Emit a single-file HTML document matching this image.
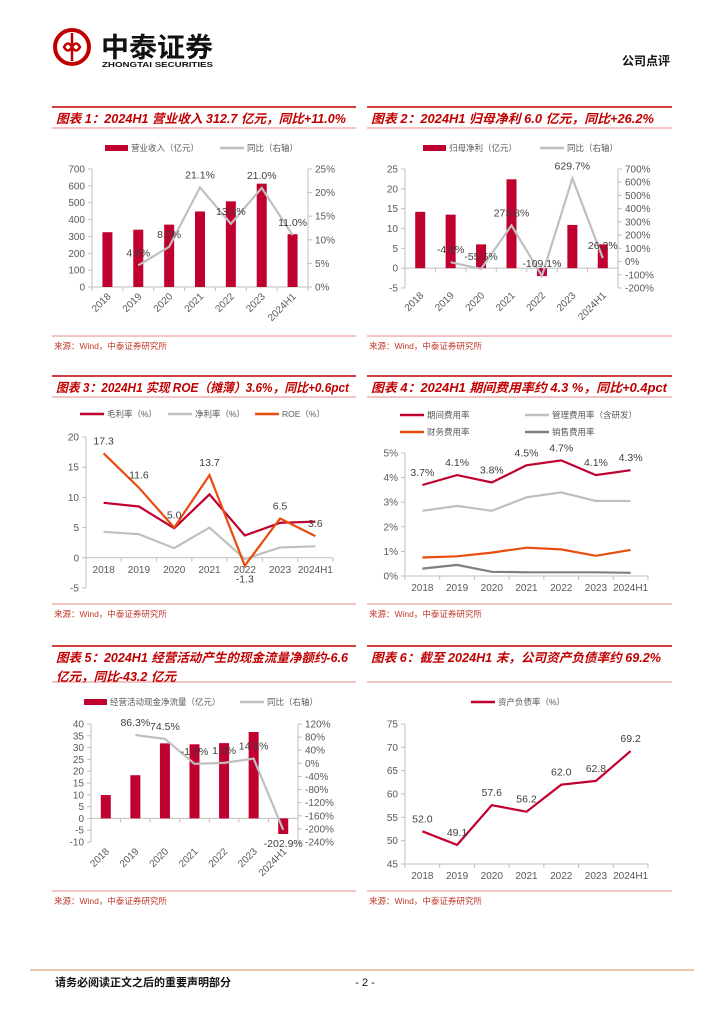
<!DOCTYPE html>
<html><head><meta charset="utf-8">
<style>
html,body{margin:0;padding:0;background:#fff;}
svg{display:block;font-family:"Liberation Sans","Noto Sans CJK SC",sans-serif;}
.tk{font-size:10px;fill:#595959;}
.lg{font-size:8.5px;fill:#595959;}
.dl{font-size:10.5px;fill:#404040;}
.tt{font-size:12.5px;font-weight:bold;font-style:italic;fill:#c00000;}
.src{font-size:8.5px;fill:#c0392b;}
</style></head>
<body>
<svg id="page" width="724" height="1024" viewBox="0 0 724 1024">
  <g>
    <circle cx="72" cy="47" r="17" fill="none" stroke="#c00000" stroke-width="4"/>
    <path d="M64 47 q4 -7 8 0 q4 7 8 0 q-4 -7 -8 0 q-4 7 -8 0z" fill="none" stroke="#c00000" stroke-width="2.5"/>
    <line x1="72" y1="33" x2="72" y2="61" stroke="#c00000" stroke-width="2.5"/>
    <text x="101" y="57" font-size="27" font-weight="bold" fill="#111" textLength="112" lengthAdjust="spacingAndGlyphs" font-family="'Noto Sans CJK SC',sans-serif">中泰证券</text>
    <text x="102" y="67" font-size="7.5" font-weight="bold" fill="#111" textLength="111" lengthAdjust="spacingAndGlyphs">ZHONGTAI SECURITIES</text>
  </g>
  <text x="670" y="65" font-size="12" font-weight="bold" fill="#111" text-anchor="end">公司点评</text>
  <line x1="30" y1="970" x2="694" y2="970" stroke="#e8c9b0" stroke-width="2"/>
  <text x="55" y="986" font-size="11" font-weight="bold" fill="#111">请务必阅读正文之后的重要声明部分</text>
  <text x="365" y="986" font-size="11" fill="#111" text-anchor="middle">- 2 -</text>
</svg>
<script>
const cats = ['2018','2019','2020','2021','2022','2023','2024H1'];
// Chart 1
const rev = [325, 340, 370, 448, 508, 613, 313];
const revYoy = [null, 4.6, 8.5, 21.1, 13.4, 21.0, 11.0];
const c1LeftTicks = [0,100,200,300,400,500,600,700];
const c1RightTicks = [0,5,10,15,20,25];
// Chart 2
const prof = [14.2, 13.5, 6.0, 22.4, -2.0, 10.9, 6.0];
const profYoy = [null, -4.8, -55.5, 273.8, -109.1, 629.7, 26.2];
const c2LeftTicks = [-5,0,5,10,15,20,25];
const c2RightTicks = [-200,-100,0,100,200,300,400,500,600,700];
// Chart 3
const gross = [9.1, 8.5, 4.9, 10.5, 3.7, 5.8, 6.0];
const net = [4.3, 3.9, 1.6, 5.0, -0.2, 1.7, 1.9];
const roe = [17.3, 11.6, 5.0, 13.7, -1.3, 6.5, 3.6];
const c3Ticks = [-5,0,5,10,15,20];
// Chart 4
const periodExp = [3.7, 4.1, 3.8, 4.5, 4.7, 4.1, 4.3];
const mgmtExp = [2.65, 2.85, 2.65, 3.2, 3.4, 3.05, 3.05];
const finExp = [0.75, 0.8, 0.95, 1.15, 1.08, 0.82, 1.06];
const salesExp = [0.3, 0.45, 0.17, 0.15, 0.15, 0.15, 0.13];
const c4Ticks = [0,1,2,3,4,5];
// Chart 5
const cash = [9.9, 18.3, 31.8, 31.4, 31.9, 36.6, -6.6];
const cashYoy = [null, 86.3, 74.5, -1.3, 1.4, 14.5, -202.9];
const c5LeftTicks = [-10,-5,0,5,10,15,20,25,30,35,40];
const c5RightTicks = [-240,-200,-160,-120,-80,-40,0,40,80,120];
// Chart 6
const debt = [52.0, 49.1, 57.6, 56.2, 62.0, 62.8, 69.2];
const c6Ticks = [45,50,55,60,65,70,75];

const NS='http://www.w3.org/2000/svg';
const svg=document.getElementById('page');
function el(tag,a,p){const e=document.createElementNS(NS,tag);for(const k in a)e.setAttribute(k,a[k]);(p||svg).appendChild(e);return e;}
function txt(s,a,p){const e=el('text',a,p);e.textContent=s;return e;}
function lin(min,max,p0,p1){return v=>p0+(v-min)/(max-min)*(p1-p0);}
function band(n,x0,x1){const s=(x1-x0)/n;return i=>x0+(i+0.5)*s;}
const AX='#bfbfbf', RED='#c0002f', GRAY='#bfbfbf', ORG='#e84c0e', DGRAY='#7f7f7f';

function panel(x0,x1,topY,titles,lens,underY,srcY){
  const g=el('g',{});
  
  
  el('line',{x1:x0,y1:topY,x2:x1,y2:topY,stroke:'#c00000','stroke-width':1.6},g);
  el('line',{x1:x0,y1:underY,x2:x1,y2:underY,stroke:'#e58a8a','stroke-width':1},g);
  titles.forEach((t,i)=>{
    const e=txt(t,{x:x0+4,y:topY+16+i*19,class:'tt',textLength:lens[i],lengthAdjust:'spacingAndGlyphs'},g);
    
    
  });
  el('line',{x1:x0,y1:srcY,x2:x1,y2:srcY,stroke:'#e58a8a','stroke-width':1},g);
  const s=txt('来源：Wind，中泰证券研究所',{x:x0+2,y:srcY+13,class:'src'},g);
  
  
  return g;
}
function yAxis(g,x,sc,ticks,fmt,side){
  el('line',{x1:x,y1:sc(ticks[0]),x2:x,y2:sc(ticks[ticks.length-1]),stroke:AX,'stroke-width':1},g);
  ticks.forEach(t=>{
    const y=sc(t);
    const d=side==='left'?-4:4;
    el('line',{x1:x,y1:y,x2:x+d,y2:y,stroke:AX},g);
    const e=txt(fmt(t),{x:side==='left'?x-7:x+7,y:y+3.5,class:'tk','text-anchor':side==='left'?'end':'start'},g);
    
    
  });
}
function xAxis(g,x0,x1,y,bx,labelY,rotate){
  el('line',{x1:x0,y1:y,x2:x1,y2:y,stroke:AX},g);
  const s=(x1-x0)/cats.length;
  for(let i=0;i<=cats.length;i++){el('line',{x1:x0+i*s,y1:y,x2:x0+i*s,y2:y+4,stroke:AX},g);}
  cats.forEach((c,i)=>{
    const cx=bx(i);
    let e;
    if(rotate){e=txt(c,{x:cx+4,y:labelY,class:'tk','text-anchor':'end',transform:`rotate(-45 ${cx+4} ${labelY})`},g);}
    else{e=txt(c,{x:cx,y:labelY,class:'tk','text-anchor':'middle'},g);}
    
    
  });
}
function bars(g,vals,bx,sc,w,name){
  vals.forEach((v,i)=>{
    const y0=sc(0),y1=sc(v);
    const r=el('rect',{x:bx(i)-w/2,y:Math.min(y0,y1),width:w,height:Math.abs(y1-y0),fill:RED},g);
    
    
  });
}
function line(g,vals,bx,sc,color,name,w){
  const pts=[];vals.forEach((v,i)=>{if(v!==null)pts.push(bx(i).toFixed(1)+','+sc(v).toFixed(1));});
  const p=el('polyline',{points:pts.join(' '),fill:'none',stroke:color,'stroke-width':w||2.2,'stroke-linejoin':'miter'},g);
  
  
}
function labels(g,vals,bx,sc,fmt,below){
  vals.forEach((v,i)=>{
    if(v===null)return;
    const dy=(below&&below(v,i))?17:-9;
    const e=txt(fmt(v),{x:bx(i),y:sc(v)+dy,class:'dl','text-anchor':'middle'},g);
    
    
  });
}
function legBar(g,x,y,t){el('rect',{x:x,y:y-3,width:23,height:6,fill:RED},g);const e=txt(t,{x:x+26,y:y+3,class:'lg'},g);}
function legLine(g,x,y,t,c){el('line',{x1:x,y1:y,x2:x+24,y2:y,stroke:c,'stroke-width':2.5},g);const e=txt(t,{x:x+27,y:y+3,class:'lg'},g);}

// Chart 1
(function(){
  const g=panel(52,356,107,['图表 1：2024H1 营业收入 312.7 亿元，同比+11.0%'],[290],128,336);
  const L=lin(0,700,287,169), R=lin(0,25,287,169), bx=band(7,92,308);
  legBar(g,105,148,'营业收入（亿元）'); legLine(g,220,148,'同比（右轴）',GRAY);
  yAxis(g,92,L,c1LeftTicks,v=>v,'left'); yAxis(g,308,R,c1RightTicks,v=>v+'%','right');
  xAxis(g,92,308,L(0),bx,297,true);
  bars(g,rev,bx,L,10,'revenue'); line(g,revYoy,bx,R,GRAY,'revenue-yoy');
  labels(g,revYoy,bx,R,v=>v.toFixed(1)+'%');
})();
// Chart 2
(function(){
  const g=panel(367,672,107,['图表 2：2024H1 归母净利 6.0 亿元，同比+26.2%'],[283],128,336);
  const L=lin(-5,25,288,169), R=lin(-200,700,288,169), bx=band(7,405,618);
  legBar(g,423,148,'归母净利（亿元）'); legLine(g,540,148,'同比（右轴）',GRAY);
  yAxis(g,405,L,c2LeftTicks,v=>v,'left'); yAxis(g,618,R,c2RightTicks,v=>v+'%','right');
  xAxis(g,405,618,L(0),bx,296,true);
  bars(g,prof,bx,L,10,'net-profit'); line(g,profYoy,bx,R,GRAY,'net-profit-yoy');
  labels(g,profYoy,bx,R,v=>v.toFixed(1)+'%');
})();
// Chart 3
(function(){
  const g=panel(52,356,376,['图表 3：2024H1 实现 ROE（摊薄）3.6%，同比+0.6pct'],[293],397,604);
  const Y=lin(-5,20,588,437), bx=band(7,86,333);
  legLine(g,80,414,'毛利率（%）',RED); legLine(g,168,414,'净利率（%）',GRAY); legLine(g,255,414,'ROE（%）',ORG);
  yAxis(g,86,Y,c3Ticks,v=>v,'left');
  xAxis(g,86,333,Y(0),bx,573,false);
  line(g,net,bx,Y,GRAY,'net-margin'); line(g,gross,bx,Y,RED,'gross-margin'); line(g,roe,bx,Y,ORG,'roe');
  labels(g,roe,bx,Y,v=>v.toFixed(1),v=>v<0);
})();
// Chart 4
(function(){
  const g=panel(367,672,376,['图表 4：2024H1 期间费用率约 4.3 %，同比+0.4pct'],[296],397,604);
  const Y=lin(0,5,576,453), bx=band(7,405,648);
  legLine(g,400,415,'期间费用率',RED); legLine(g,525,415,'管理费用率（含研发）',GRAY);
  legLine(g,400,432,'财务费用率',ORG); legLine(g,525,432,'销售费用率',DGRAY);
  yAxis(g,405,Y,c4Ticks,v=>v+'%','left');
  xAxis(g,405,648,Y(0),bx,591,false);
  line(g,mgmtExp,bx,Y,GRAY,'admin-expense'); line(g,finExp,bx,Y,ORG,'finance-expense');
  line(g,salesExp,bx,Y,DGRAY,'sales-expense'); line(g,periodExp,bx,Y,RED,'period-expense');
  labels(g,periodExp,bx,Y,v=>v.toFixed(1)+'%');
})();
// Chart 5
(function(){
  const g=panel(52,356,646,['图表 5：2024H1 经营活动产生的现金流量净额约-6.6','亿元，同比-43.2 亿元'],[292,120],682,891);
  const L=lin(-10,40,842,724), R=lin(-240,120,842,724), bx=band(7,91,298);
  legBar(g,84,702,'经营活动现金净流量（亿元）'); legLine(g,240,702,'同比（右轴）',GRAY);
  yAxis(g,91,L,c5LeftTicks,v=>v,'left'); yAxis(g,298,R,c5RightTicks,v=>v+'%','right');
  xAxis(g,91,298,L(0),bx,852,true);
  bars(g,cash,bx,L,10,'operating-cash-flow'); line(g,cashYoy,bx,R,GRAY,'cash-flow-yoy');
  labels(g,cashYoy,bx,R,v=>v.toFixed(1)+'%',v=>v<-100);
})();
// Chart 6
(function(){
  const g=panel(367,672,646,['图表 6：截至 2024H1 末，公司资产负债率约 69.2%'],[290],682,891);
  const Y=lin(45,75,864,724), bx=band(7,405,648);
  legLine(g,471,702,'资产负债率（%）',RED);
  yAxis(g,405,Y,c6Ticks,v=>v,'left');
  xAxis(g,405,648,Y(45),bx,879,false);
  line(g,debt,bx,Y,RED,'debt-ratio');
  labels(g,debt,bx,Y,v=>v.toFixed(1));
})();
</script>
</body></html>
